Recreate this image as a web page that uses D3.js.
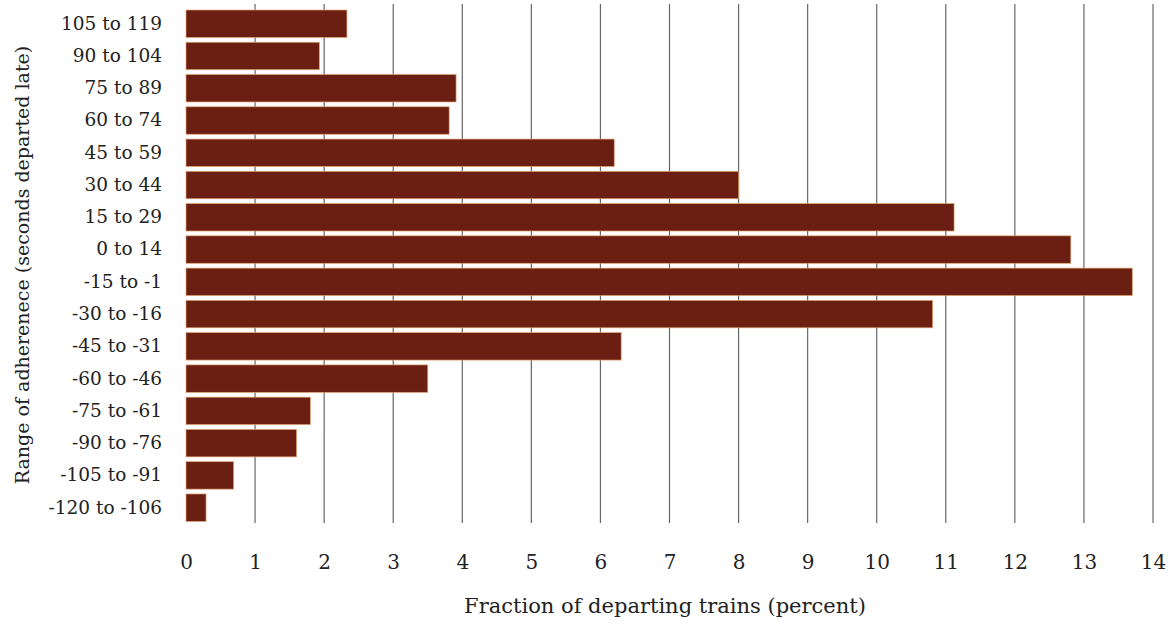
<!DOCTYPE html>
<html>
<head>
<meta charset="utf-8">
<script src="https://cdn.jsdelivr.net/npm/d3@7"></script>
<style>
    body { margin: 0; background: #fff; }
    text { font-family: "DejaVu Serif", serif; fill: #222; }
</style>
</head>
<body>
<div id="chart"></div>
<script>
// categories listed top to bottom
var categories = ["105 to 119", "90 to 104", "75 to 89", "60 to 74", "45 to 59", "30 to 44",
    "15 to 29", "0 to 14", "-15 to -1", "-30 to -16", "-45 to -31", "-60 to -46",
    "-75 to -61", "-90 to -76", "-105 to -91", "-120 to -106"];
var fractions = [2.33, 1.93, 3.91, 3.81, 6.2, 8.0, 11.12, 12.81, 13.7, 10.81, 6.3, 3.5,
    1.8, 1.6, 0.69, 0.29];
var xTickValues = d3.range(0, 15);
var xTitle = "Fraction of departing trains (percent)";
var yTitle = "Range of adherenece (seconds departed late)";

var width = 1172, height = 625;
var margin = {top: 8.4, left: 186, right: 19, bottom: 102};

var svg = d3.select("#chart").append("svg")
    .attr("width", width)
    .attr("height", height);

var xScale = d3.scaleLinear()
    .domain([0, 14])
    .range([margin.left, width - margin.right]);

var gridBottom = height - margin.bottom;

var yScale = d3.scaleBand()
    .domain(categories)
    .range([margin.top, gridBottom])
    .paddingInner(0.15)
    .paddingOuter(0.05);

// vertical grid lines sit behind the bars
svg.append("g")
    .attr("class", "grid")
    .selectAll("line")
    .data(xTickValues.filter(function (d) { return d > 0; }))
    .enter().append("line")
    .attr("x1", function (d) { return xScale(d); })
    .attr("x2", function (d) { return xScale(d); })
    .attr("y1", 4)
    .attr("y2", gridBottom)
    .attr("stroke", "#666")
    .attr("stroke-width", 1.2);

svg.append("g")
    .attr("class", "bars")
    .selectAll("rect")
    .data(categories)
    .enter().append("rect")
    .attr("x", xScale(0))
    .attr("y", function (d) { return yScale(d); })
    .attr("width", function (d, i) { return xScale(fractions[i]) - xScale(0); })
    .attr("height", yScale.bandwidth())
    .attr("fill", "#6a1f12")
    .attr("stroke", "#e0a070")
    .attr("stroke-width", 0.7);

// x axis: labels only, no domain line
var xAxis = d3.axisBottom(xScale)
    .tickValues(xTickValues)
    .tickSize(0)
    .tickPadding(0);
var xAxisG = svg.append("g")
    .attr("class", "axis x-axis")
    .attr("transform", "translate(0," + 555 + ")")
    .call(xAxis);
xAxisG.select(".domain").remove();
xAxisG.selectAll("text")
    .attr("font-size", 20)
    .attr("font-family", "DejaVu Serif, serif")
    .attr("fill", "#222");

var yAxis = d3.axisLeft(yScale)
    .tickSize(0)
    .tickPadding(0);
var yAxisG = svg.append("g")
    .attr("class", "axis y-axis")
    .attr("transform", "translate(" + 162 + ",0)")
    .call(yAxis);
yAxisG.select(".domain").remove();
yAxisG.selectAll("text")
    .attr("font-size", 18.5)
    .attr("font-family", "DejaVu Serif, serif")
    .attr("fill", "#222");

svg.append("text")
    .attr("x", 665)
    .attr("y", 613)
    .attr("text-anchor", "middle")
    .attr("font-size", 21)
    .text(xTitle);

svg.append("text")
    .attr("transform", "translate(29," + 265 + ") rotate(-90)")
    .attr("text-anchor", "middle")
    .attr("font-size", 19)
    .text(yTitle);
</script>
</body>
</html>
